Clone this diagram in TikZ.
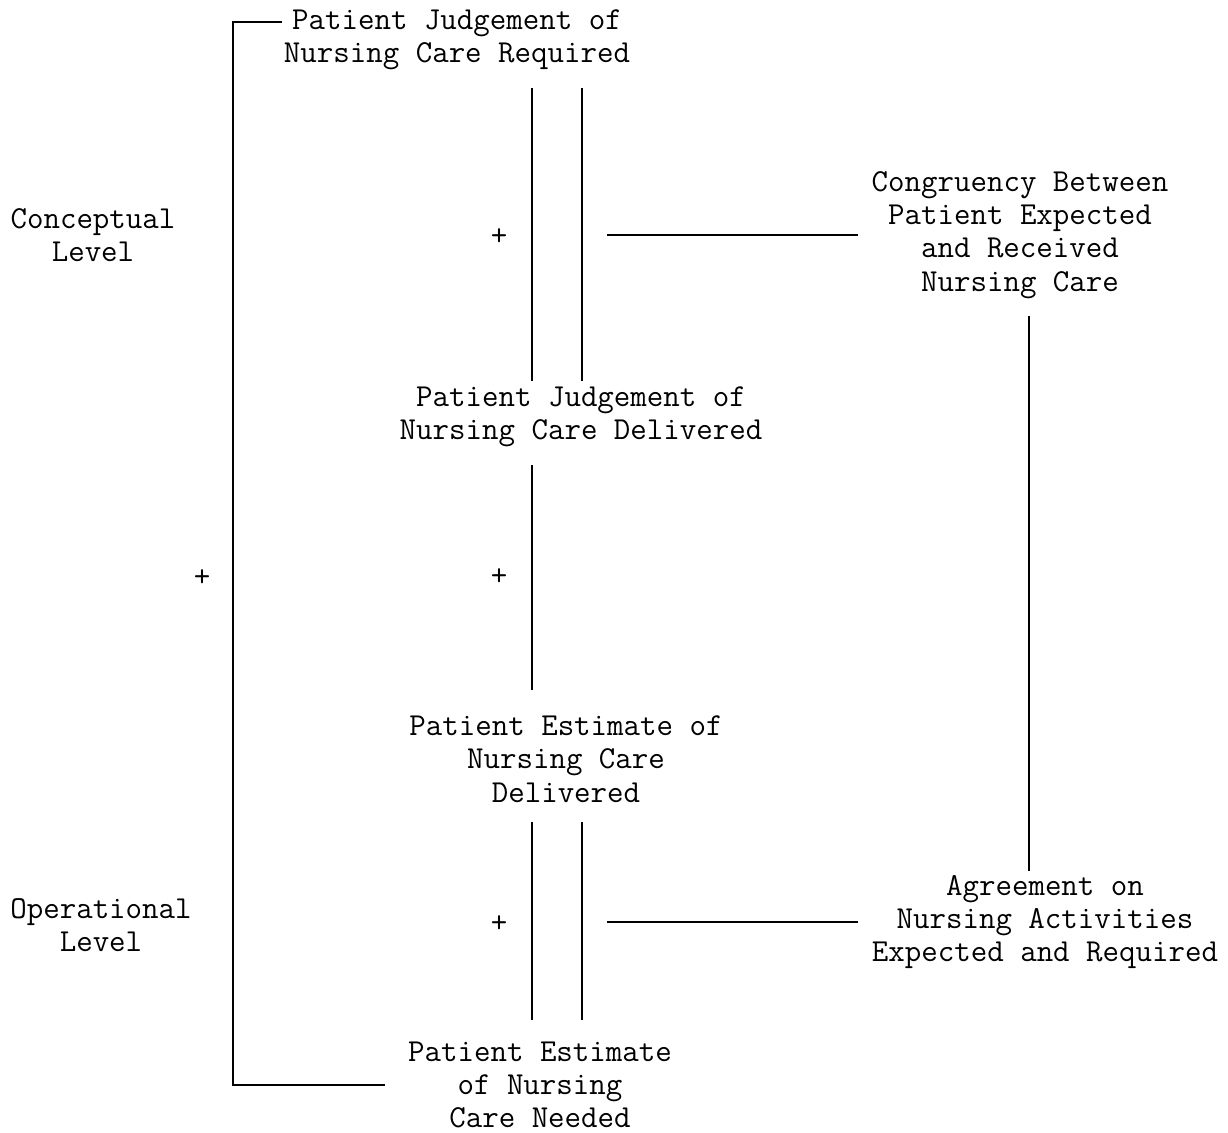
\documentclass[tikz,border=0pt]{standalone}
\usepackage{fontspec}
\begin{document}
\begin{tikzpicture}[x=0.5pt,y=-0.5pt,
  lbl/.style={align=center,inner sep=0pt,font=\ttfamily\fontsize{16}{16.7}\selectfont},
  ln/.style={line width=1pt,black}]
\useasboundingbox (0,0) rectangle (1228,1133);
% nodes
\node[lbl] (A) at (457,40) {Patient Judgement of\\Nursing Care Required};
\node[lbl] (B) at (581,417) {Patient Judgement of\\Nursing Care Delivered};
\node[lbl] (C) at (1020,235) {Congruency Between\\Patient Expected\\and Received\\Nursing Care};
\node[lbl] (D) at (566,759) {Patient Estimate of\\Nursing Care\\Delivered};
\node[lbl] (E) at (1045,922) {Agreement on\\Nursing Activities\\Expected and Required};
\node[lbl] (F) at (540,1085) {Patient Estimate\\of Nursing\\Care Needed};
\node[lbl] (CL) at (93,235) {Conceptual\\Level};
\node[lbl] (OL) at (101,925) {Operational\\Level};
\node[lbl] (p1) at (499,237) {+};
\node[lbl] (p2) at (499,577) {+};
\node[lbl] (p3) at (202,578) {+};
\node[lbl] (p4) at (499,924) {+};
% guide coordinates
\coordinate (xL) at (532,0);
\coordinate (xR) at (582,0);
\coordinate (xV) at (1029,0);
% left bracket
\coordinate (tl) at (233,22);
\coordinate (bl) at (233,1085);
\coordinate (be) at (385,1085);
\draw[ln] ([xshift=-1pt]A.west |- tl) -- (tl) -- (bl) -- (be);
% double lines between A and B
\draw[ln] (xL |- 0,88) -- (xL |- 0,381);
\draw[ln] (xR |- 0,88) -- (xR |- 0,381);
% single line between B and D
\draw[ln] (xL |- 0,465) -- (xL |- 0,690);
% double lines between D and F
\draw[ln] (xL |- 0,822) -- (xL |- 0,1020);
\draw[ln] (xR |- 0,822) -- (xR |- 0,1020);
% horizontal connectors
\coordinate (h1) at (607,235);
\coordinate (h2) at (607,922);
\draw[ln] (h1) -- (858,235);
\draw[ln] (h2) -- (858,922);
% right vertical
\draw[ln] (xV |- 0,316) -- (xV |- 0,871);
\end{tikzpicture}
\end{document}
